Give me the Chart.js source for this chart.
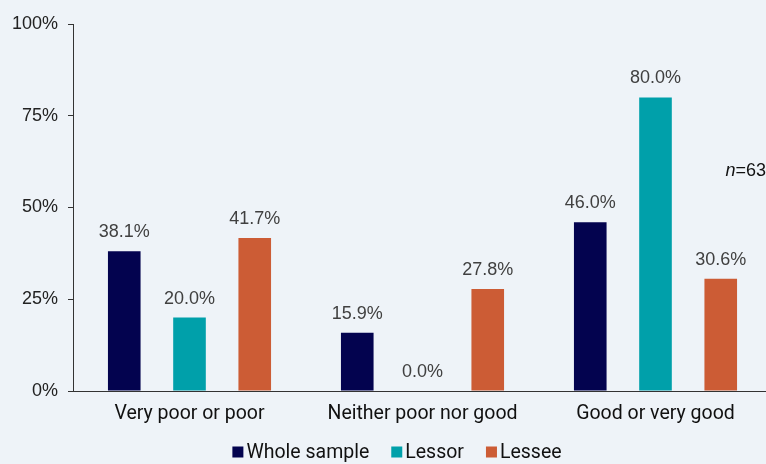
<!DOCTYPE html>
<html lang="en">
  <head>
    <meta charset="UTF-8" />
    <title>Rating by group</title>
    <script src="https://cdn.jsdelivr.net/npm/chart.js"></script>
    <style>
      html, body { margin: 0; padding: 0; background: #eef3f8; overflow: hidden; }
      .chart { width: 772px; height: 464px; }
    </style>
  </head>
  <body>
    <div class="chart">
      <canvas id="ratingChart"></canvas>
    </div>
  </body>
  <script>
    // Categories and series (percent)
    const categories = ["Very poor or poor", "Neither poor nor good", "Good or very good"];
    const wholeSample = [38.1, 15.9, 46.0];
    const lessor = [20.0, 0.0, 80.0];
    const lessee = [41.7, 27.8, 30.6];
    const yTicks = [0, 25, 50, 75, 100];
    const sampleNote = "63";

    const labelFont = "19.5px Roboto, sans-serif";

    // value labels above each bar
    const valueLabels = {
      id: "valueLabels",
      afterDatasetsDraw(chart) {
        const ctx = chart.ctx;
        ctx.save();
        ctx.font = "18px 'Liberation Sans', Arial, sans-serif";
        ctx.fillStyle = "#404040";
        ctx.textAlign = "center";
        ctx.textBaseline = "middle";
        chart.data.datasets.forEach((ds, i) => {
          chart.getDatasetMeta(i).data.forEach((bar, j) => {
            ctx.fillText(ds.data[j].toFixed(1) + "%", bar.x, bar.y - 19);
          });
        });
        ctx.restore();
      },
    };

    // n=63 note
    const nNote = {
      id: "nNote",
      afterDraw(chart) {
        const ctx = chart.ctx;
        const y = chart.scales.y.getPixelForValue(60);
        ctx.save();
        ctx.fillStyle = "#111";
        ctx.textBaseline = "middle";
        ctx.textAlign = "left";
        ctx.font = "18px 'Liberation Sans', Arial, sans-serif";
        const rest = "=" + sampleNote;
        const wr = ctx.measureText(rest).width;
        ctx.font = "italic 18px 'Liberation Sans', Arial, sans-serif";
        const wn = ctx.measureText("n").width;
        const x = 766 - wr - wn;
        ctx.fillText("n", x, y);
        ctx.font = "18px 'Liberation Sans', Arial, sans-serif";
        ctx.fillText(rest, x + wn, y);
        ctx.restore();
      },
    };

    // legend drawn under the axis labels
    const bottomLegend = {
      id: "bottomLegend",
      afterDraw(chart) {
        const ctx = chart.ctx;
        const y = 452;
        const box = 11, gap = 3, spacing = 22;
        ctx.save();
        ctx.font = labelFont;
        ctx.textBaseline = "middle";
        ctx.textAlign = "left";
        const items = chart.data.datasets.map((ds) => ({
          text: ds.label,
          color: ds.backgroundColor,
          w: box + gap + ctx.measureText(ds.label).width,
        }));
        const total = items.reduce((s, it) => s + it.w, 0) + spacing * (items.length - 1);
        let x = 397 - total / 2;
        items.forEach((it) => {
          ctx.fillStyle = it.color;
          ctx.fillRect(x, y - box / 2, box, box);
          ctx.fillStyle = "#111";
          ctx.fillText(it.text, x + box + gap, y + 1);
          x += it.w + spacing;
        });
        ctx.restore();
      },
    };

    const ctx = document.getElementById("ratingChart").getContext("2d");
    new Chart(ctx, {
      type: "bar",
      data: {
        labels: categories,
        datasets: [
          { label: "Whole sample", data: wholeSample, backgroundColor: "#03034f" },
          { label: "Lessor", data: lessor, backgroundColor: "#00a0aa" },
          { label: "Lessee", data: lessee, backgroundColor: "#cc5c35" },
        ],
      },
      options: {
        responsive: true,
        maintainAspectRatio: false,
        animation: false,
        categoryPercentage: 0.84,
        barPercentage: 0.5,
        layout: { padding: { top: 24, left: 0, right: 0, bottom: 0 } },
        plugins: {
          legend: { display: false },
          tooltip: { enabled: false },
        },
        scales: {
          y: {
            min: 0,
            max: 100,
            afterFit(scale) { scale.width = 73; },
            afterBuildTicks(scale) { scale.ticks = yTicks.map((v) => ({ value: v })); },
            ticks: {
              padding: 10,
              color: "#222",
              font: { family: "'Liberation Sans', Arial, sans-serif", size: 18 },
              callback: (v) => v + "%",
            },
            grid: { drawOnChartArea: false, drawTicks: true, tickLength: 5, color: "#333" },
            border: { display: true, color: "#333" },
          },
          x: {
            afterFit(scale) { scale.height = 73; },
            ticks: {
              padding: 11,
              color: "#111",
              font: { family: "Roboto", size: 19.5 },
            },
            grid: { drawOnChartArea: false, drawTicks: false },
            border: { display: true, color: "#333" },
          },
        },
      },
      plugins: [valueLabels, nNote, bottomLegend],
    });
  </script>
</html>
